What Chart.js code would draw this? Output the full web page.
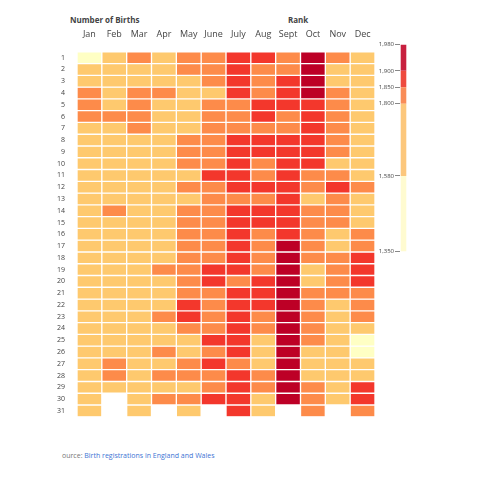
<!DOCTYPE html>
<html>
<head>
<meta charset="utf-8">
<script src="https://cdn.jsdelivr.net/npm/chart.js@4"></script>
<style>
  body { margin: 0; background: #fff; font-family: "Open Sans", sans-serif; }
  #wrap { position: relative; width: 480px; height: 480px; }
  .ttl { position: absolute; font-size: 8px; font-weight: bold; color: #444; }
  #src { position: absolute; left: 62px; top: 451px; font-size: 7px; color: #777; }
  #src span { color: #3d74d4; }
</style>
</head>
<body>
<div id="wrap">
  <div class="ttl" style="left:70px; top:14px;">Number of Births</div>
  <div class="ttl" style="left:288px; top:14px;">Rank</div>
  <div style="position:absolute; left:53px; top:25px; width:322px; height:400px;"><canvas id="heat"></canvas></div>
  <div style="position:absolute; left:370px; top:40px; width:40px; height:216px;"><canvas id="bar"></canvas></div>
  <div id="src">ource: <span>Birth registrations in England and Wales</span></div>
</div>
<script>
// Months and days of the heatmap
const months = ["Jan", "Feb", "Mar", "Apr", "May", "June", "July", "Aug", "Sept", "Oct", "Nov", "Dec"];
const days = Array.from({ length: 31 }, (_, i) => i + 1);

// Estimated births per day, one array per month (day 1..31, null = no such day)
const jan  = [1480,1700,1700,1820,1820,1820,1700,1700,1700,1700,1700,1700,1700,1700,1700,1700,1700,1700,1700,1700,1700,1700,1700,1700,1700,1700,1700,1700,1700,1700,1700];
const feb  = [1700,1700,1700,1700,1700,1820,1700,1700,1700,1700,1700,1700,1700,1820,1700,1700,1700,1700,1700,1700,1700,1700,1700,1700,1700,1700,1820,1820,1700,null,null];
const mar  = [1820,1700,1700,1820,1820,1820,1820,1700,1700,1700,1700,1700,1700,1700,1700,1700,1700,1700,1700,1700,1700,1700,1700,1700,1700,1700,1700,1700,1700,1700,1700];
const apr  = [1700,1700,1700,1820,1700,1700,1700,1700,1700,1700,1700,1700,1700,1700,1700,1700,1700,1700,1820,1700,1700,1700,1820,1700,1700,1820,1700,1820,1700,1820,null];
const may  = [1820,1820,1700,1700,1700,1700,1700,1820,1820,1820,1700,1820,1700,1820,1820,1820,1820,1820,1820,1820,1820,1870,1870,1820,1700,1700,1820,1820,1700,1820,1700];
const jun  = [1820,1820,1820,1700,1820,1820,1820,1820,1820,1820,1870,1820,1820,1820,1820,1820,1820,1820,1870,1870,1820,1820,1820,1820,1870,1820,1870,1820,1820,1870,null];
const jul  = [1870,1870,1870,1870,1820,1820,1820,1870,1870,1870,1870,1870,1820,1870,1870,1870,1870,1870,1870,1820,1870,1870,1870,1870,1870,1870,1820,1870,1870,1870,1870];
const aug  = [1870,1820,1820,1820,1870,1870,1820,1870,1870,1820,1820,1870,1820,1870,1870,1820,1820,1820,1820,1870,1870,1870,1820,1820,1700,1700,1700,1820,1820,1700,1700];
const sep  = [1820,1820,1870,1870,1870,1820,1820,1870,1870,1870,1870,1870,1870,1870,1870,1870,1940,1940,1940,1940,1940,1940,1940,1940,1940,1940,1940,1940,1940,1940,null];
const oct  = [1940,1940,1940,1940,1870,1870,1870,1870,1870,1870,1820,1820,1700,1820,1820,1820,1820,1820,1700,1700,1820,1820,1820,1820,1820,1700,1700,1700,1820,1820,1820];
const nov  = [1820,1700,1700,1820,1820,1820,1820,1820,1820,1700,1820,1870,1820,1820,1820,1700,1700,1820,1820,1820,1820,1700,1700,1700,1700,1700,1700,1700,1700,1700,null];
const dec  = [1700,1700,1700,1700,1700,1700,1700,1700,1700,1700,1700,1820,1700,1700,1700,1820,1820,1870,1870,1870,1820,1820,1820,1700,1480,1480,1700,1700,1870,1870,1820];
const births = [jan, feb, mar, apr, may, jun, jul, aug, sep, oct, nov, dec];

// Colour bands of the legend
const bandEdges = [1350, 1580, 1800, 1850, 1900, 1980];
const bandColors = ["#ffffc4", "#fec96e", "#fd8b4a", "#f3372c", "#bd0026"];
const barColors = ["#fffbd0", "#fcc77c", "#f98c58", "#ee4a3e", "#c8203f"];

function colorFor(v) {
    for (let i = bandColors.length - 1; i >= 0; i--) {
        if (v >= bandEdges[i]) return bandColors[i];
    }
    return bandColors[0];
}

// One dataset per day, floating bars spanning [day-0.5, day+0.5]
const dayDatasets = days.map((d, i) => ({
    data: months.map((m, j) => births[j][i] == null ? null : [d - 0.5, d + 0.5]),
    backgroundColor: months.map((m, j) => births[j][i] == null ? "rgba(0,0,0,0)" : colorFor(births[j][i])),
    borderColor: "#fff",
    borderWidth: 1,
    borderSkipped: false,
    grouped: false,
    barPercentage: 1,
    categoryPercentage: 1
}));

new Chart(document.getElementById("heat"), {
    type: "bar",
    data: { labels: months, datasets: dayDatasets },
    options: {
        responsive: true,
        maintainAspectRatio: false,
        animation: false,
        plugins: { legend: { display: false }, tooltip: { enabled: false } },
        scales: {
            x: {
                position: "top",
                grid: { display: false },
                border: { display: false },
                ticks: { color: "#444", font: { family: "Open Sans", size: 9 }, padding: 4 }
            },
            y: {
                type: "linear",
                reverse: true,
                min: 0.5,
                max: 31.5,
                grid: { display: false },
                border: { display: false },
                afterBuildTicks: axis => { axis.ticks = days.map(v => ({ value: v })); },
                ticks: { color: "#444", font: { family: "Open Sans", size: 7 }, padding: 4, autoSkip: false }
            }
        }
    }
});

// Colour bar
const bandDatasets = barColors.map((c, i) => ({
    data: [[bandEdges[i], bandEdges[i + 1]]],
    backgroundColor: c,
    borderWidth: 0,
    grouped: false,
    barPercentage: 0.8,
    categoryPercentage: 1
}));

new Chart(document.getElementById("bar"), {
    type: "bar",
    data: { labels: [""], datasets: bandDatasets },
    options: {
        responsive: true,
        maintainAspectRatio: false,
        animation: false,
        layout: { padding: { left: 0, right: 3, top: 4, bottom: 4 } },
        plugins: { legend: { display: false }, tooltip: { enabled: false } },
        scales: {
            x: { display: false },
            y: {
                min: 1350,
                max: 1980,
                afterFit: axis => { axis.width = 30; },
                grid: { drawOnChartArea: false, color: "#888", tickLength: 5 },
                border: { display: false },
                afterBuildTicks: axis => { axis.ticks = bandEdges.map(v => ({ value: v })); },
                ticks: { color: "#444", font: { family: "Open Sans", size: 6 }, padding: 1, autoSkip: false }
            }
        }
    }
});
</script>
</body>
</html>
